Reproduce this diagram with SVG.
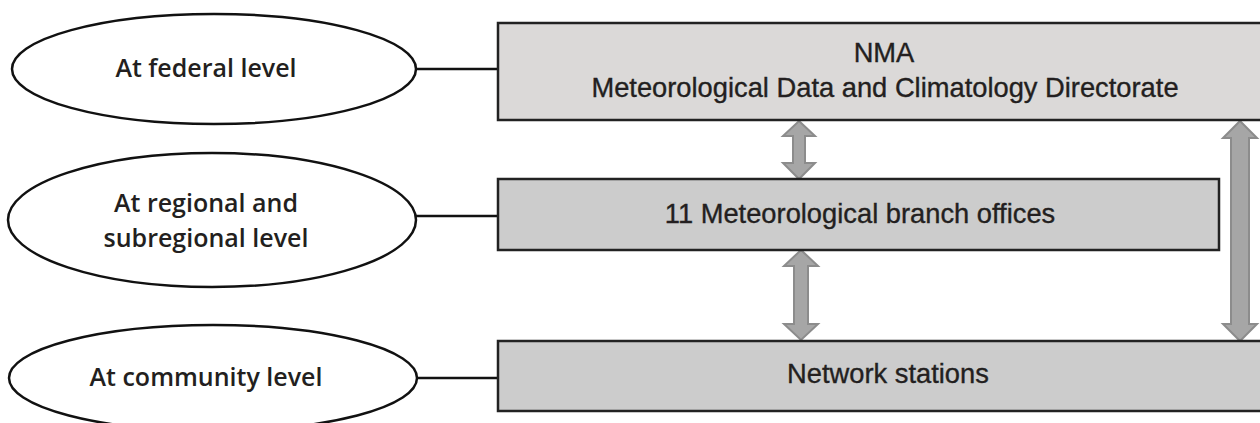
<svg xmlns="http://www.w3.org/2000/svg" width="1260" height="423" viewBox="0 0 1260 423">
<style>
.ell{fill:#ffffff;stroke:#111;stroke-width:2.5}
.box{stroke:#222;stroke-width:2.5}
.link{stroke:#111;stroke-width:2.5;fill:none}
.arr{fill:#a6a6a6;stroke:#8c8c8c;stroke-width:2;stroke-linejoin:miter}
.lt{font-family:"Open Sans","Noto Sans",sans-serif;font-size:25px;font-weight:600;fill:#231f20;text-anchor:middle}
.bt{font-family:"Liberation Sans",Arial,sans-serif;font-size:27.3px;fill:#231f20;stroke:#231f20;stroke-width:0.35;text-anchor:middle}
</style>
<rect width="1260" height="423" fill="#ffffff"/>
<g id="connectors">
<line class="link" x1="416" y1="69" x2="498" y2="69"/>
<line class="link" x1="416" y1="216" x2="498" y2="216"/>
<line class="link" x1="417" y1="378" x2="498" y2="378"/>
<path class="arr" d="M799,121 L815,136 L805,136 L805,163 L815,163 L799,179 L783,163 L793,163 L793,136 L783,136 Z"/>
<path class="arr" d="M801,250 L818,266 L808,266 L808,324 L818,324 L801,340 L784,324 L794,324 L794,266 L784,266 Z"/>
<path class="arr" d="M1240,121 L1257,138 L1249,138 L1249,324 L1257,324 L1240,341 L1223,324 L1231,324 L1231,138 L1223,138 Z"/>
</g>
<g id="node-federal">
<ellipse class="ell" cx="214" cy="69" rx="202" ry="55"/>
<text class="lt" x="206" y="77">At federal level</text>
</g>
<g id="node-regional">
<ellipse class="ell" cx="212" cy="220" rx="204" ry="67"/>
<text class="lt" x="206" y="212">At regional and</text>
<text class="lt" x="206" y="247">subregional level</text>
</g>
<g id="node-community">
<ellipse class="ell" cx="213" cy="378" rx="204" ry="53"/>
<text class="lt" x="206" y="386">At community level</text>
</g>
<g id="node-nma">
<rect class="box" x="498" y="23" width="780" height="97" fill="#dbd9d8"/>
<text class="bt" x="884" y="62">NMA</text>
<text class="bt" x="885" y="97">Meteorological Data and Climatology Directorate</text>
</g>
<g id="node-branch">
<rect class="box" x="498" y="179" width="721" height="71" fill="#cccccc"/>
<text class="bt" x="860" y="223">11 Meteorological branch offices</text>
</g>
<g id="node-stations">
<rect class="box" x="498" y="341" width="780" height="70" fill="#cccccc"/>
<text class="bt" x="888" y="383">Network stations</text>
</g>
</svg>
